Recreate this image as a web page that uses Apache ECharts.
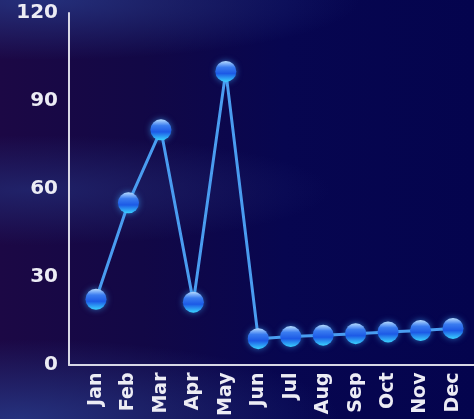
<!DOCTYPE html>
<html>
<head>
<meta charset="utf-8">
<style>
  html, body { margin: 0; padding: 0; }
  #chart {
    width: 474px; height: 419px;
    background:
      radial-gradient(ellipse 320px 60px at 40px 0px, rgba(40,60,140,0.75), rgba(40,60,140,0) 100%),
      radial-gradient(ellipse 300px 55px at 30px 190px, rgba(35,45,120,0.7), rgba(35,45,120,0) 100%),
      radial-gradient(ellipse 320px 80px at 20px 419px, rgba(40,60,140,0.8), rgba(40,60,140,0) 100%),
      linear-gradient(90deg, #1c0845 0%, #120846 30%, #070650 60%, #04044e 100%);
  }
</style>
<script src="https://cdn.jsdelivr.net/npm/echarts@6/dist/echarts.min.js"></script>
</head>
<body>
<div id="chart"></div>
<script>
// Monthly values plotted as a single line
const months = ['Jan', 'Feb', 'Mar', 'Apr', 'May', 'Jun', 'Jul', 'Aug', 'Sep', 'Oct', 'Nov', 'Dec'];
const values = [22, 55, 80, 21, 100, 8.5, 9.2, 9.7, 10.2, 10.8, 11.3, 12];
const yTicks = [0, 30, 60, 90, 120];

const labelFont = { color: '#ececf4', fontFamily: 'DejaVu Sans', fontWeight: 'bold' };

const sphere = {
  type: 'linear', x: 0, y: 0, x2: 0, y2: 1,
  colorStops: [
    { offset: 0, color: '#b8dcff' },
    { offset: 0.3, color: '#3a7cf0' },
    { offset: 0.6, color: '#1c5ae6' },
    { offset: 1, color: '#3ad2ff' }
  ]
};

const chart = echarts.init(document.getElementById('chart'));
chart.setOption({
  animation: false,
  grid: [
    { left: 69, right: 0, top: 13, bottom: 54 },
    { left: 96, right: 21, top: 13, bottom: 54 }
  ],
  xAxis: [
    {
      gridIndex: 0, type: 'value', min: 0, max: 1,
      axisLine: { show: true, lineStyle: { color: '#d8d8e6', width: 2 } },
      axisTick: { show: false }, axisLabel: { show: false }, splitLine: { show: false }
    },
    {
      gridIndex: 1, type: 'category', data: months, boundaryGap: false,
      axisLine: { show: false }, axisTick: { show: false }, splitLine: { show: false },
      axisLabel: Object.assign({ rotate: 90, margin: 9, interval: 0, fontSize: 19 }, labelFont)
    }
  ],
  yAxis: [
    {
      gridIndex: 0, type: 'value', min: yTicks[0], max: yTicks[yTicks.length - 1],
      interval: yTicks[1] - yTicks[0],
      axisLine: { show: true, lineStyle: { color: '#d8d8e6', width: 2 } },
      axisTick: { show: false }, splitLine: { show: false },
      axisLabel: Object.assign({ margin: 11, fontSize: 20, padding: [6, 0, 0, 0] }, labelFont)
    },
    {
      gridIndex: 1, type: 'value', min: yTicks[0], max: yTicks[yTicks.length - 1],
      show: false, splitLine: { show: false }
    }
  ],
  series: [{
    type: 'line',
    xAxisIndex: 1, yAxisIndex: 1,
    data: values,
    symbol: 'circle',
    symbolSize: 21,
    showAllSymbol: true,
    lineStyle: { color: '#4a9cf0', width: 3 },
    itemStyle: { color: sphere, borderWidth: 0, shadowColor: 'rgba(60,170,255,0.6)', shadowBlur: 6 }
  }]
});
</script>
</body>
</html>
